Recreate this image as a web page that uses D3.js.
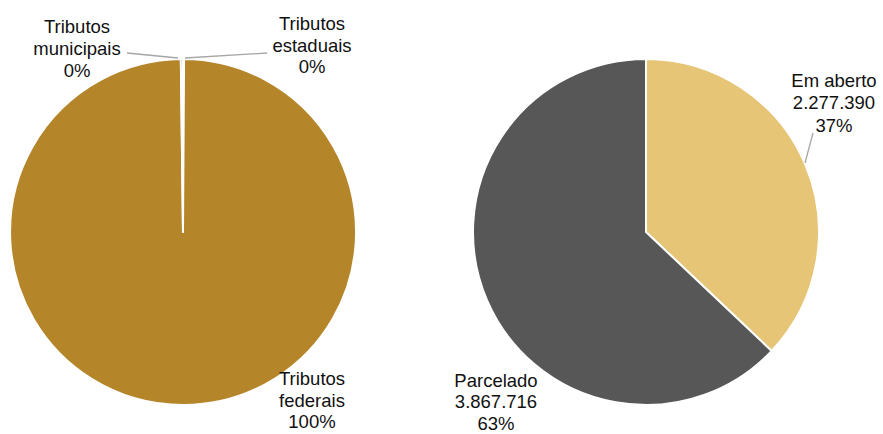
<!DOCTYPE html>
<html><head><meta charset="utf-8">
<script src="https://cdn.jsdelivr.net/npm/d3@7"></script>
<style>body{margin:0;background:#fff;}svg{display:block;}text{font-family:"Liberation Sans",Arial,sans-serif;font-size:18.5px;fill:#111;}</style>
</head><body>
<svg id="c" width="883" height="434"></svg>
<script>
// Left pie: tributos
const leftCategories = ["Tributos estaduais", "Tributos federais", "Tributos municipais"];
const leftValues = [0.1, 100, 0.2];
const leftPercents = ["0%", "100%", "0%"];
const leftColors = ["#7F7F7F", "#B5852A", "#3F3F3F"];
// Right pie: situação
const rightCategories = ["Em aberto", "Parcelado"];
const rightValues = [2277390, 3867716];
const rightValueLabels = ["2.277.390", "3.867.716"];
const rightPercents = ["37%", "63%"];
const rightColors = ["#E6C577", "#575757"];

const svg = d3.select("#c");
const R = 173;
const pie = d3.pie().sort(null).value(d => d.v).startAngle(0).endAngle(2*Math.PI);
const arc = d3.arc().innerRadius(0).outerRadius(R);

function drawPie(cx, cy, cats, vals, colors){
  const data = cats.map((c,i)=>({c, v: vals[i], col: colors[i]}));
  const g = svg.append("g").attr("transform", `translate(${cx},${cy})`);
  g.selectAll("path").data(pie(data)).join("path")
    .attr("d", arc).attr("fill", d=>d.data.col)
    .attr("stroke", "#fff").attr("stroke-width", 2).attr("stroke-linejoin","round");
  return g;
}
function label(x, ys, lines){
  const t = svg.append("text").attr("text-anchor","middle");
  lines.forEach((l,i)=>t.append("tspan").attr("x", x).attr("y", ys[i]).text(l));
}
function leader(pts){
  svg.append("polyline").attr("points", pts.map(p=>p.join(",")).join(" "))
    .attr("fill","none").attr("stroke","#A6A6A6").attr("stroke-width",1.3);
}

drawPie(183, 232, leftCategories, leftValues, leftColors);
drawPie(646, 232, rightCategories, rightValues, rightColors);

// left labels
label(77, [33, 55, 77], ["Tributos", "municipais", leftPercents[2]]);
label(312, [30, 52, 73], ["Tributos", "estaduais", leftPercents[0]]);
label(312, [385, 407, 428], ["Tributos", "federais", leftPercents[1]]);
leader([[127,53],[178,58]]);
leader([[267,53],[185,58]]);

// right labels
label(834, [87, 109, 132], [rightCategories[0], rightValueLabels[0], rightPercents[0]]);
label(496, [387, 408, 430], [rightCategories[1], rightValueLabels[1], rightPercents[1]]);
leader([[805,163],[813,133]]);
</script>
</body></html>
